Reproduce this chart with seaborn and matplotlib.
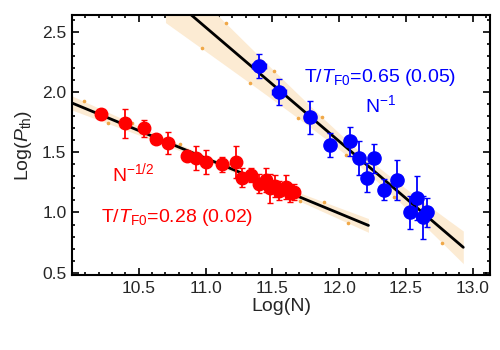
import numpy as np
import pandas as pd
import seaborn as sns
import matplotlib.pyplot as plt
from matplotlib.ticker import MultipleLocator

# red series, T/TF0 = 0.28
red_logn = [10.22, 10.40, 10.54, 10.63, 10.72, 10.86, 10.93, 11.00, 11.12, 11.23,
            11.27, 11.34, 11.40, 11.45, 11.48, 11.52, 11.55, 11.60, 11.63, 11.66]
red_logp = [1.82, 1.74, 1.70, 1.61, 1.58, 1.47, 1.45, 1.42, 1.40, 1.42,
            1.29, 1.31, 1.24, 1.27, 1.20, 1.22, 1.18, 1.21, 1.16, 1.17]
red_err = [0.03, 0.12, 0.07, 0.03, 0.09, 0.03, 0.10, 0.10, 0.06, 0.13,
           0.08, 0.06, 0.08, 0.10, 0.12, 0.09, 0.08, 0.10, 0.07, 0.07]

# blue series, T/TF0 = 0.65
blue_logn = [11.40, 11.55, 11.78, 11.93, 12.08, 12.15, 12.21, 12.26, 12.34, 12.43,
             12.53, 12.58, 12.63, 12.66]
blue_logp = [2.22, 2.00, 1.79, 1.56, 1.59, 1.45, 1.29, 1.45, 1.19, 1.27,
             1.00, 1.12, 0.96, 1.00]
blue_err = [0.10, 0.11, 0.14, 0.10, 0.12, 0.14, 0.12, 0.12, 0.09, 0.17,
            0.14, 0.18, 0.18, 0.12]
blue_xerr = [0.05, 0.05, 0.03, 0.03, 0.03, 0.03, 0.03, 0.03, 0.03, 0.03,
             0.03, 0.03, 0.03, 0.03]

red_fit_range = (10.0, 12.22)
blue_fit_range = (10.70, 12.93)

sns.set_theme(style='ticks')
plt.rcParams['font.family'] = ['Liberation Sans', 'DejaVu Sans']
plt.rcParams['mathtext.fontset'] = 'custom'
plt.rcParams['mathtext.rm'] = 'Liberation Sans'
plt.rcParams['mathtext.it'] = 'Liberation Sans:italic'


def fit_band(x, y, lo, hi, k):
    x = np.asarray(x)
    y = np.asarray(y)
    b, a = np.polyfit(x, y, 1)
    res = y - (a + b * x)
    s = np.sqrt(np.sum(res ** 2) / (len(x) - 2))
    xs = np.linspace(lo, hi, 100)
    se = s * np.sqrt(1 / len(x) + (xs - x.mean()) ** 2 / np.sum((x - x.mean()) ** 2))
    return xs, a + b * xs, k * se


fig = plt.figure(figsize=(5, 3.5), dpi=100)
ax = fig.add_axes([0.144, 0.214, 0.836, 0.743])

for lx, ly, rng in [(red_logn, red_logp, red_fit_range), (blue_logn, blue_logp, blue_fit_range)]:
    xs, yf, hw = fit_band(lx, ly, rng[0], rng[1], 3.0)
    ax.fill_between(xs, yf - hw, yf + hw, color='#FCEBD3', lw=0, zorder=1)
    # little sample dots on the band edges
    ax.plot(xs[4::16], (yf + hw)[4::16], 'o', ms=1.6, color='#F0A848', zorder=1.5)
    ax.plot(xs[12::16], (yf - hw)[12::16], 'o', ms=1.6, color='#F0A848', zorder=1.5)
    sns.lineplot(x=xs, y=yf, color='black', lw=2, ax=ax, zorder=2)

ax.errorbar(red_logn, red_logp, yerr=red_err, fmt='o', ms=9, color='#FF0000',
            ecolor='#FF0000', elinewidth=1.3, capsize=2.5, zorder=3)
ax.errorbar(blue_logn, blue_logp, yerr=blue_err, xerr=blue_xerr, fmt='o', ms=9.5,
            color='#0000FF', ecolor='#0000FF', elinewidth=1.3, capsize=2.5, zorder=3)

ax.text(12.31, 2.12, r'T/$\mathit{T}_{\mathrm{F0}}$=0.65 (0.05)', color='#0000FF',
        fontsize=14, ha='center', va='center')
ax.text(12.31, 1.89, r'N$^{-1}$', color='#0000FF', fontsize=14, ha='center', va='center')
ax.text(10.30, 1.33, r'N$^{-1/2}$', color='#FF0000', fontsize=14, ha='left', va='center')
ax.text(10.22, 0.96, r'T/$\mathit{T}_{\mathrm{F0}}$=0.28 (0.02)', color='#FF0000',
        fontsize=14, ha='left', va='center')

ax.set_xlim(10.0, 13.13)
ax.set_ylim(0.48, 2.64)
ax.xaxis.set_major_locator(MultipleLocator(0.5))
ax.xaxis.set_minor_locator(MultipleLocator(0.1))
ax.yaxis.set_major_locator(MultipleLocator(0.5))
ax.yaxis.set_minor_locator(MultipleLocator(0.1))
ax.tick_params(which='both', direction='in', top=True, right=True, width=1.2, color='black')
ax.tick_params(which='major', length=5, labelsize=12.5, pad=4)
ax.tick_params(which='minor', length=2.5)
ax.set_xticks([10.5, 11.0, 11.5, 12.0, 12.5, 13.0])
ax.set_yticks([0.5, 1.0, 1.5, 2.0, 2.5])
for sp in ax.spines.values():
    sp.set_linewidth(1.5)
    sp.set_color('black')
ax.set_xlabel('Log(N)', fontsize=14, labelpad=2)
ax.set_ylabel(r'Log($\mathit{P}_{\mathrm{th}}$)', fontsize=14, labelpad=6)

fig.savefig('out.png', dpi=100)
